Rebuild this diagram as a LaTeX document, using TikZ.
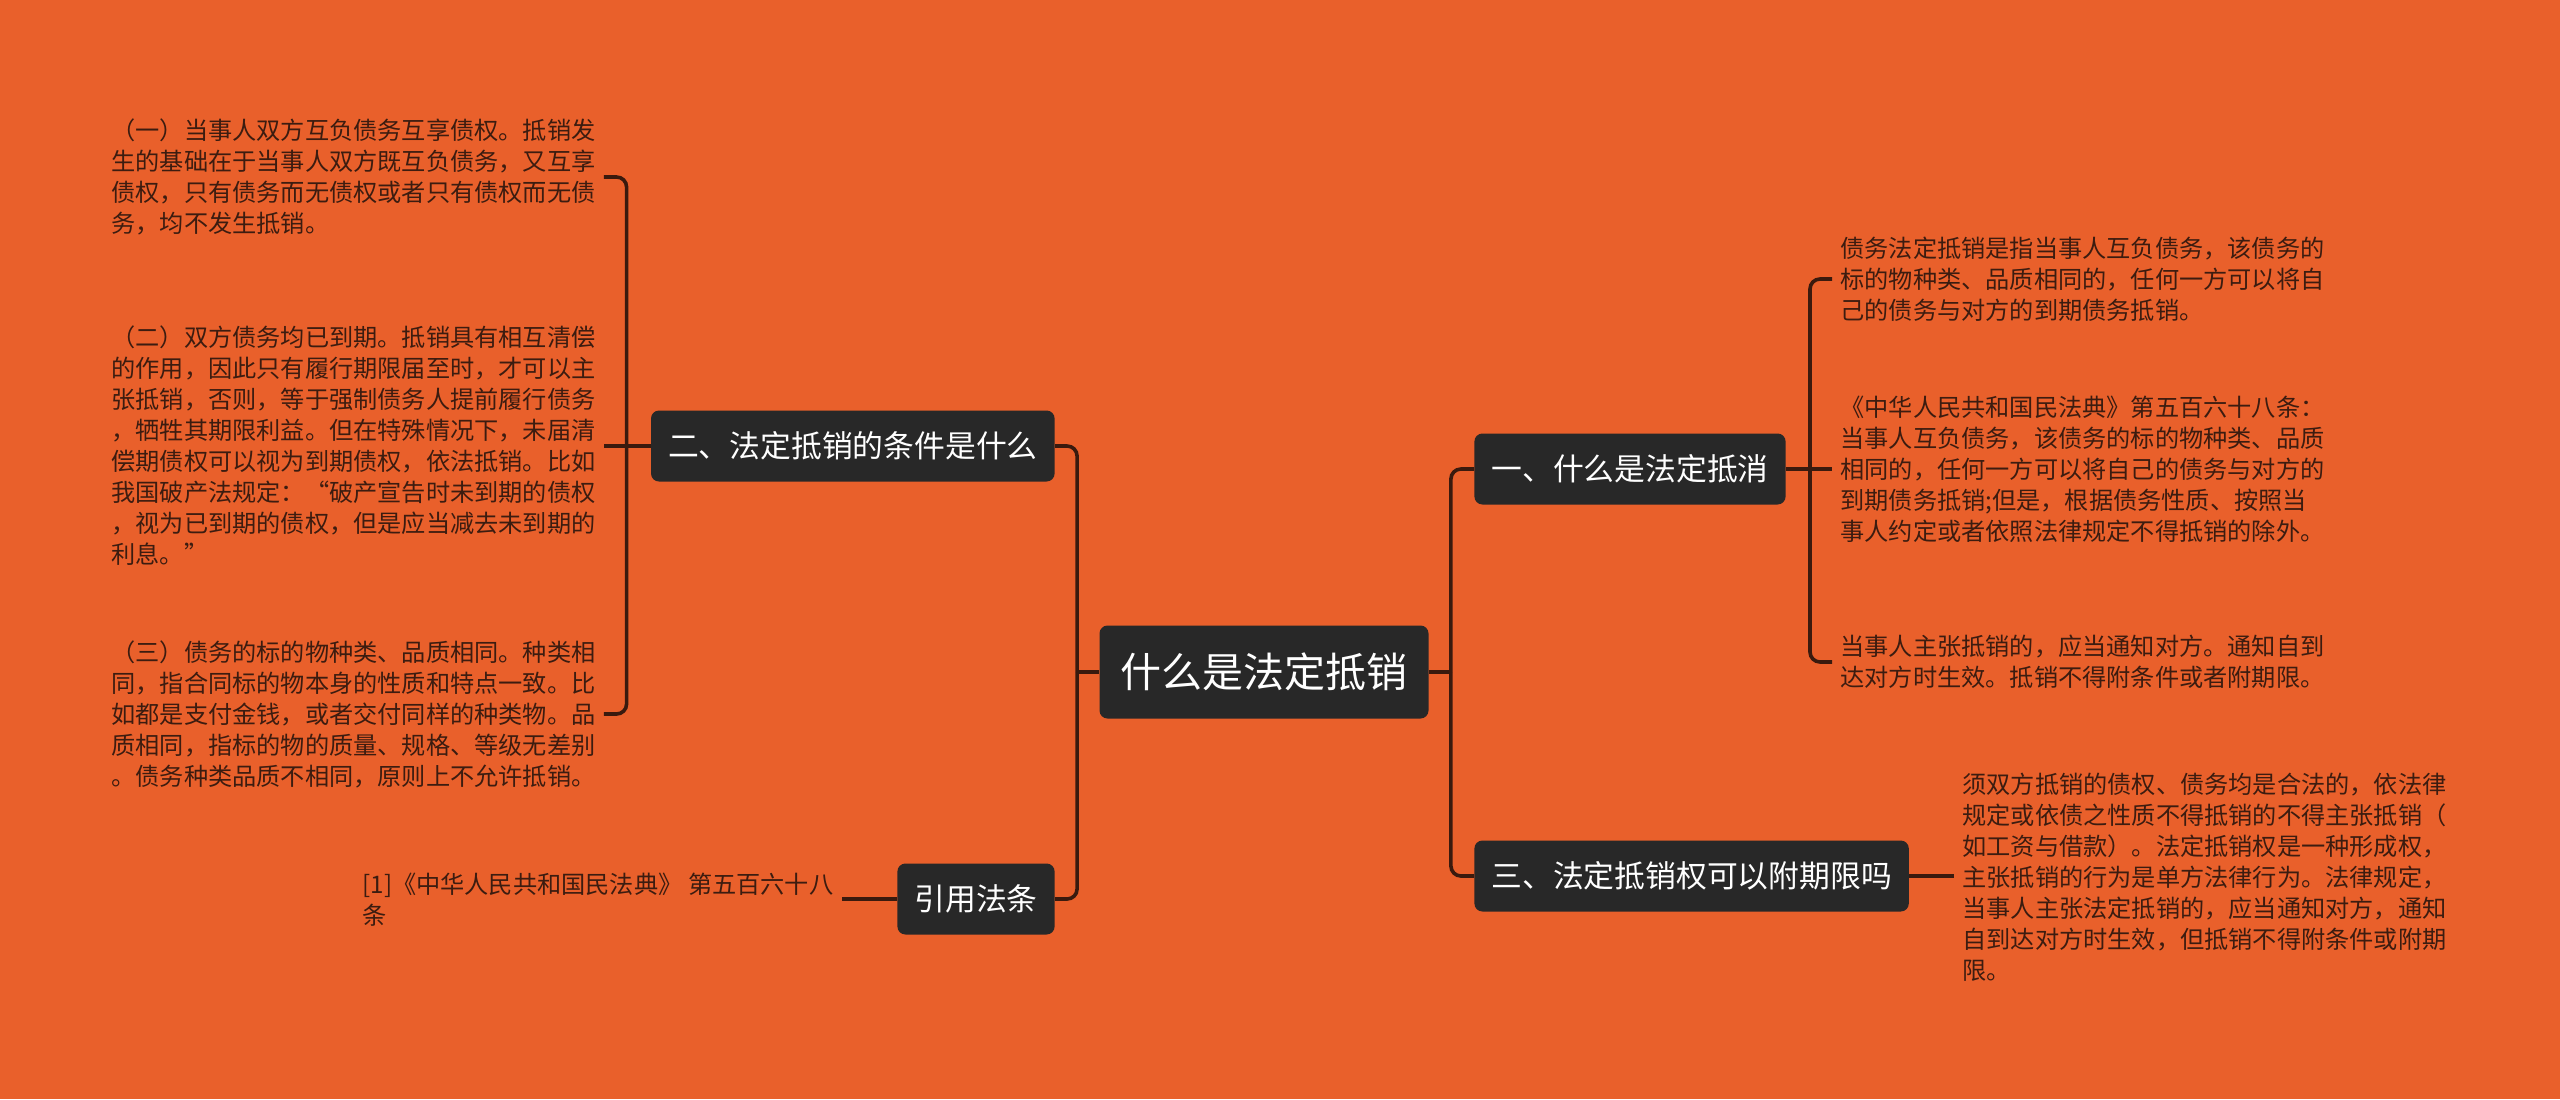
\documentclass[tikz,border=0pt]{standalone}
\usepackage{fontspec}
\setmainfont{Noto Sans CJK SC}
\usetikzlibrary{arrows.meta,positioning}
\definecolor{mapbg}{RGB}{233,96,43}
\definecolor{boxdark}{RGB}{40,40,40}
\definecolor{linebrown}{RGB}{58,26,14}
\definecolor{leafink}{RGB}{60,28,16}

\begin{document}
\begin{tikzpicture}[x=0.5pt,y=-0.5pt,>=Latex,every node/.style={align=left},
  rootbox/.style={fill=boxdark,text=white,rounded corners=4pt,font=\fontsize{20.5}{24}\selectfont,minimum width=164.5pt,minimum height=46.5pt},
  topic/.style={fill=boxdark,text=white,rounded corners=4pt,font=\fontsize{15.4}{18}\selectfont,inner xsep=8.5pt,minimum height=35.5pt},
  leaf/.style={text=leafink,font=\fontsize{12.1}{15.5}\selectfont,inner sep=4pt},
  conn/.style={draw=linebrown,line width=1.8pt,rounded corners=5pt}]
  \fill[mapbg] (0,0) rectangle (2560,1099);

  \node[rootbox] (root) at (1264,672) {什么是法定抵销};

  % left side
  \node[topic,anchor=east] (cond) at (1055,446) {二、法定抵销的条件是什么};
  \node[topic,anchor=east] (cite) at (1055,899) {引用法条};
  \node[leaf,anchor=west] (c1) at (103,177)
    {（一）当事人双方互负债务互享债权。抵销发\\生的基础在于当事人双方既互负债务，又互享\\债权，只有债务而无债权或者只有债权而无债\\务，均不发生抵销。};
  \node[leaf,anchor=west] (c2) at (103,446)
    {（二）双方债务均已到期。抵销具有相互清偿\\的作用，因此只有履行期限届至时，才可以主\\张抵销，否则，等于强制债务人提前履行债务\\，牺牲其期限利益。但在特殊情况下，未届清\\偿期债权可以视为到期债权，依法抵销。比如\\我国破产法规定：“破产宣告时未到期的债权\\，视为已到期的债权，但是应当减去未到期的\\利息。”};
  \node[leaf,anchor=west] (c3) at (103,714)
    {（三）债务的标的物种类、品质相同。种类相\\同，指合同标的物本身的性质和特点一致。比\\如都是支付金钱，或者交付同样的种类物。品\\质相同，指标的物的质量、规格、等级无差别\\。债务种类品质不相同，原则上不允许抵销。};
  \node[leaf,anchor=west] (c4) at (354,900)
    {[1]《中华人民共和国民法典》 第五百六十八\\条};

  % right side
  \node[topic,anchor=west] (what) at (1474,469) {一、什么是法定抵消};
  \node[topic,anchor=west] (term) at (1474,876) {三、法定抵销权可以附期限吗};
  \node[leaf,anchor=west] (r1) at (1832,279)
    {债务法定抵销是指当事人互负债务，该债务的\\标的物种类、品质相同的，任何一方可以将自\\己的债务与对方的到期债务抵销。};
  \node[leaf,anchor=west] (r2) at (1832,469)
    {《中华人民共和国民法典》第五百六十八条：\\当事人互负债务，该债务的标的物种类、品质\\相同的，任何一方可以将自己的债务与对方的\\到期债务抵销;但是，根据债务性质、按照当\\事人约定或者依照法律规定不得抵销的除外。};
  \node[leaf,anchor=west] (r3) at (1832,662)
    {当事人主张抵销的，应当通知对方。通知自到\\达对方时生效。抵销不得附条件或者附期限。};
  \node[leaf,anchor=west] (r4) at (1954,877)
    {须双方抵销的债权、债务均是合法的，依法律\\规定或依债之性质不得抵销的不得主张抵销（\\如工资与借款）。法定抵销权是一种形成权，\\主张抵销的行为是单方法律行为。法律规定，\\当事人主张法定抵销的，应当通知对方，通知\\自到达对方时生效，但抵销不得附条件或附期\\限。};

  % connectors
  \coordinate (lhub) at ([xshift=-11pt]root.west);
  \coordinate (rhub) at ([xshift=11pt]root.east);
  \coordinate (chub) at ([xshift=-12pt]cond.west);
  \coordinate (whub) at ([xshift=12pt]what.east);
  \draw[conn] (root.west) -- (lhub);
  \draw[conn] (lhub) |- (cond.east);
  \draw[conn] (lhub) |- (cite.east);
  \draw[conn] (root.east) -- (rhub);
  \draw[conn] (rhub) |- (what.west);
  \draw[conn] (rhub) |- (term.west);
  \draw[conn] (cond.west) -- (chub);
  \draw[conn] (chub) |- (c1.east);
  \draw[conn] (chub) -- (c2.east);
  \draw[conn] (chub) |- (c3.east);
  \draw[conn] (cite.west) -- (cite.west -| c4.east);
  \draw[conn] (what.east) -- (whub);
  \draw[conn] (whub) |- (r1.west);
  \draw[conn] (whub) -- (r2.west);
  \draw[conn] (whub) |- (r3.west);
  \draw[conn] (term.east) -- (term.east -| r4.west);
\end{tikzpicture}
\end{document}
